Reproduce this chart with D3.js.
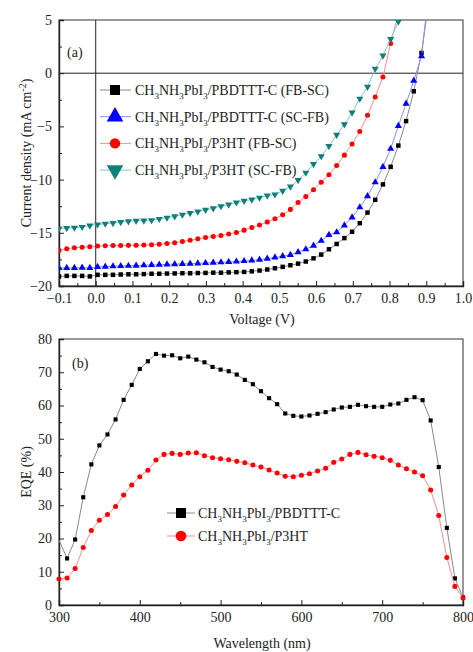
<!DOCTYPE html>
<html>
<head>
<meta charset="utf-8">
<script src="https://cdn.jsdelivr.net/npm/d3@7"></script>
</head>
<body style="margin:0">
<svg id="chart" width="473" height="652"></svg>
<script>
// panel (a) J-V data
var voltage = [-0.100,-0.079,-0.058,-0.037,-0.016,0.005,0.026,0.047,0.068,0.089,0.110,0.131,0.152,0.173,0.194,0.215,0.236,0.257,0.278,0.299,0.320,0.341,0.362,0.383,0.404,0.425,0.446,0.467,0.488,0.509,0.530,0.551,0.572,0.593,0.614,0.635,0.656,0.677,0.698,0.719,0.740,0.761,0.782,0.803,0.824,0.845,0.866,0.887,0.908];
var jPbdtttFbSc = [-19.1,-19.05,-19.05,-19.05,-19.1,-18.95,-18.95,-18.95,-18.92,-18.9,-18.9,-18.88,-18.85,-18.85,-18.83,-18.82,-18.8,-18.8,-18.78,-18.77,-18.75,-18.75,-18.72,-18.7,-18.68,-18.62,-18.55,-18.45,-18.33,-18.2,-18.05,-17.9,-17.7,-17.4,-17.05,-16.55,-16.05,-15.5,-14.9,-14.1,-13.1,-11.9,-10.45,-8.8,-6.8,-4.5,-1.7,1.9,7.0];
var jPbdtttScFb = [-18.3,-18.3,-18.3,-18.28,-18.3,-18.2,-18.18,-18.15,-18.12,-18.1,-18.08,-18.05,-18.02,-18.0,-17.97,-17.95,-17.92,-17.9,-17.87,-17.84,-17.8,-17.77,-17.74,-17.7,-17.65,-17.6,-17.52,-17.43,-17.32,-17.2,-17.07,-16.82,-16.55,-16.2,-15.75,-15.2,-14.95,-14.3,-13.55,-12.6,-11.55,-10.25,-8.8,-7.1,-4.95,-2.86,-0.7,1.6,8.0];
var jP3htFbSc = [-16.65,-16.5,-16.4,-16.35,-16.32,-16.25,-16.22,-16.2,-16.2,-16.18,-16.17,-16.15,-16.12,-16.08,-16.0,-15.93,-15.82,-15.7,-15.57,-15.45,-15.35,-15.25,-15.12,-14.97,-14.75,-14.5,-14.27,-13.98,-13.67,-13.3,-12.8,-12.15,-11.6,-10.95,-10.25,-9.55,-8.68,-7.7,-6.65,-5.47,-3.96,-2.24,-0.35,2.8,5.6];
var jP3htScFb = [-14.6,-14.55,-14.52,-14.45,-14.32,-14.22,-14.15,-14.08,-14.0,-13.92,-13.87,-13.85,-13.82,-13.7,-13.58,-13.45,-13.3,-13.15,-13.0,-12.85,-12.7,-12.5,-12.35,-12.15,-12.0,-11.88,-11.7,-11.5,-11.4,-11.05,-10.65,-10.05,-9.35,-8.55,-7.8,-6.85,-5.8,-4.8,-3.71,-2.4,-1.29,0.42,1.65,3.2,4.85,6.5];

// panel (b) EQE data
var wavelength = [300,310,320,330,340,350,360,370,380,390,400,410,420,430,440,450,460,470,480,490,500,510,520,530,540,550,560,570,580,590,600,610,620,630,640,650,660,670,680,690,700,710,720,730,740,750,760,770,780,790,800];
var eqePbdttt = [19.5,14.0,19.7,32.4,42.3,48.0,51.3,55.8,61.7,66.2,71.0,73.3,75.5,75.0,75.1,74.2,74.7,73.8,73.0,71.6,70.8,70.3,69.3,67.7,66.4,64.3,62.2,60.4,57.6,56.9,56.7,57.0,57.5,58.0,58.8,59.4,59.6,60.2,59.8,59.6,59.6,60.3,60.6,61.7,62.5,61.6,55.5,41.5,23.2,8.0,2.3];
var eqeP3ht = [7.8,8.1,11.0,17.3,22.4,25.5,27.2,29.6,33.1,36.1,38.6,40.5,43.6,45.3,45.6,45.3,45.7,45.8,44.9,44.3,44.0,43.7,43.2,42.8,42.1,41.5,40.6,39.7,38.7,38.6,39.0,39.5,40.3,41.1,42.9,43.9,45.3,45.9,45.2,44.7,44.3,43.5,42.1,41.0,40.0,38.9,34.6,26.9,14.3,5.6,2.1];

var svg = d3.select("#chart"),
    left = 59, right = 463,
    ink = "#222";

// every label goes through here so it gets the serif face at once
function label(parent, x, y, str) {
  var t = parent.append("text")
      .style("font-family", "Liberation Serif")
      .style("font-size", "14px")
      .style("fill", ink);
  if (x !== null) t.attr("x", x).attr("y", y);
  if (str) t.text(str);
  return t;
}

// axis groups come with sans-serif attributes, swap them for the serif face
function plainAxis(g, domainWidth) {
  g.attr("font-family", null).attr("font-size", null);
  g.selectAll("text")
      .style("font-family", "Liberation Serif")
      .style("font-size", "14px")
      .style("fill", ink);
  g.selectAll("line").attr("stroke", ink);
  if (domainWidth) g.select(".domain").attr("stroke", ink).attr("stroke-width", domainWidth);
  else g.select(".domain").remove();
}

// nested svg viewport used as a clip box, keeping page coordinates
function viewport(x, y, w, h) {
  return svg.append("svg")
      .attr("x", x).attr("y", y).attr("width", w).attr("height", h)
      .attr("viewBox", x + " " + y + " " + w + " " + h)
      .attr("overflow", "hidden");
}

// legend text with subscripts
function formula(t, tail) {
  var parts = ["CH", "3", "NH", "3", "PbI", "3", tail];
  parts.forEach(function(p, i) {
    var sp = t.append("tspan").text(p);
    if (i % 2 === 1 && i < 6) {
      sp.style("font-size", "9px").attr("dy", "4");
    } else if (i > 0) {
      sp.attr("dy", "-4");
    }
  });
}

// ---------- panel (a) ----------
var topA = 20, bottomA = 286;
var xA = d3.scaleLinear().domain([-0.1, 1.0]).range([left, right]),
    yA = d3.scaleLinear().domain([-20, 5]).range([bottomA, topA]);

svg.append("rect").attr("x", left).attr("y", topA).attr("width", right - left).attr("height", bottomA - topA)
    .attr("fill", "none").attr("stroke", "#333").attr("stroke-width", 1);

svg.append("line").attr("x1", left).attr("x2", right).attr("y1", yA(0)).attr("y2", yA(0))
    .attr("stroke", ink).attr("stroke-width", 1);
svg.append("line").attr("x1", xA(0)).attr("x2", xA(0)).attr("y1", topA).attr("y2", bottomA)
    .attr("stroke", ink).attr("stroke-width", 1);

svg.append("g")
    .attr("transform", "translate(0," + bottomA + ")")
    .call(d3.axisBottom(xA).tickValues(d3.range(-0.1, 1.01, 0.1)).tickFormat(d3.format(".1f")).tickSize(-5).tickPadding(7))
    .call(plainAxis, 1.4);
svg.append("g")
    .attr("transform", "translate(0," + bottomA + ")")
    .call(d3.axisBottom(xA).tickValues(d3.range(-0.05, 1.0, 0.1)).tickFormat("").tickSize(-3))
    .call(plainAxis, 0);

svg.append("g")
    .attr("transform", "translate(" + left + ",0)")
    .call(d3.axisLeft(yA).tickValues([-20, -15, -10, -5, 0, 5]).tickSize(-5).tickPadding(7))
    .call(plainAxis, 1.4);
svg.append("g")
    .attr("transform", "translate(" + left + ",0)")
    .call(d3.axisLeft(yA).tickValues([-17.5, -12.5, -7.5, -2.5, 2.5]).tickFormat("").tickSize(-3))
    .call(plainAxis, 0);

var seriesA = [
  {name: "PBDTTT-C (FB-SC)", values: jPbdtttFbSc, line: "#8a8a8a", color: "#000", symbol: d3.symbolSquare, size: 20, rot: 0, big: 100},
  {name: "PBDTTT-C (SC-FB)", values: jPbdtttScFb, line: "#8c8cff", color: "#0000ff", symbol: d3.symbolTriangle, size: 22, rot: 0, big: 120},
  {name: "P3HT (FB-SC)", values: jP3htFbSc, line: "#ff8c8c", color: "#ff0000", symbol: d3.symbolCircle, size: 20, rot: 0, big: 85},
  {name: "P3HT (SC-FB)", values: jP3htScFb, line: "#86c8c2", color: "#0e8078", symbol: d3.symbolTriangle, size: 22, rot: 180, big: 120}
];

var lineA = d3.line()
    .x(function(d) { return xA(d.v); })
    .y(function(d) { return yA(d.j); });

var plotA = viewport(left, topA, right - left, bottomA - topA);

seriesA.forEach(function(s) {
  var pts = s.values.map(function(j, i) { return {v: voltage[i], j: j}; });
  plotA.append("path").datum(pts)
      .attr("fill", "none").attr("stroke", s.line).attr("stroke-width", 1)
      .attr("d", lineA);
  plotA.selectAll(null).data(pts).enter().append("path")
      .attr("transform", function(d) { return "translate(" + xA(d.v) + "," + yA(d.j) + ") rotate(" + s.rot + ")"; })
      .attr("d", d3.symbol().type(s.symbol).size(s.size))
      .attr("fill", s.color);
});

seriesA.forEach(function(s, i) {
  var ly = 90 + i * 26.7;
  svg.append("line").attr("x1", 100).attr("x2", 131).attr("y1", ly).attr("y2", ly)
      .attr("stroke", s.line).attr("stroke-width", 1);
  svg.append("path")
      .attr("transform", "translate(115," + ly + ") rotate(" + s.rot + ")")
      .attr("d", d3.symbol().type(s.symbol).size(s.big))
      .attr("fill", s.color);
  formula(label(svg, 135, ly + 5), "/" + s.name);
});

label(svg, 67, 57, "(a)");
label(svg, 262, 324, "Voltage (V)").attr("text-anchor", "middle");

var yt = label(svg, null, null)
    .attr("transform", "translate(31," + ((topA + bottomA) / 2) + ") rotate(-90)")
    .attr("text-anchor", "middle");
yt.append("tspan").text("Current density  (mA cm");
yt.append("tspan").text("-2").style("font-size", "10px").attr("dy", "-5");
yt.append("tspan").text(")").attr("dy", "5");

// ---------- panel (b) ----------
var topB = 339, bottomB = 605;
var xB = d3.scaleLinear().domain([300, 800]).range([left, right]),
    yB = d3.scaleLinear().domain([0, 80]).range([bottomB, topB]);

svg.append("rect").attr("x", left).attr("y", topB).attr("width", right - left).attr("height", bottomB - topB)
    .attr("fill", "none").attr("stroke", "#333").attr("stroke-width", 1);

svg.append("g")
    .attr("transform", "translate(0," + bottomB + ")")
    .call(d3.axisBottom(xB).tickValues([300, 400, 500, 600, 700, 800]).tickSize(-5).tickPadding(7))
    .call(plainAxis, 1.4);
svg.append("g")
    .attr("transform", "translate(0," + bottomB + ")")
    .call(d3.axisBottom(xB).tickValues([350, 450, 550, 650, 750]).tickFormat("").tickSize(-3))
    .call(plainAxis, 0);

svg.append("g")
    .attr("transform", "translate(" + left + ",0)")
    .call(d3.axisLeft(yB).tickValues(d3.range(0, 81, 10)).tickSize(-5).tickPadding(7))
    .call(plainAxis, 1.4);
svg.append("g")
    .attr("transform", "translate(" + left + ",0)")
    .call(d3.axisLeft(yB).tickValues(d3.range(5, 80, 10)).tickFormat("").tickSize(-3))
    .call(plainAxis, 0);

var seriesB = [
  {name: "PBDTTT-C", values: eqePbdttt, line: "#8a8a8a", color: "#000", symbol: d3.symbolSquare, size: 17, big: 100, first: 1},
  {name: "P3HT", values: eqeP3ht, line: "#ff8c8c", color: "#ff0000", symbol: d3.symbolCircle, size: 20, big: 90, first: 0}
];

var lineB = d3.line()
    .x(function(d) { return xB(d.w); })
    .y(function(d) { return yB(d.e); });

var plotB = viewport(left - 4, topB, right - left + 8, bottomB - topB + 4);

seriesB.forEach(function(s) {
  var pts = s.values.map(function(e, i) { return {w: wavelength[i], e: e}; });
  plotB.append("path").datum(pts)
      .attr("fill", "none").attr("stroke", s.line).attr("stroke-width", 1)
      .attr("d", lineB);
  plotB.selectAll(null).data(pts.slice(s.first)).enter().append("path")
      .attr("transform", function(d) { return "translate(" + xB(d.w) + "," + yB(d.e) + ")"; })
      .attr("d", d3.symbol().type(s.symbol).size(s.size))
      .attr("fill", s.color);
});

seriesB.forEach(function(s, i) {
  var ly = 513 + i * 23;
  svg.append("line").attr("x1", 167).attr("x2", 195).attr("y1", ly).attr("y2", ly)
      .attr("stroke", s.line).attr("stroke-width", 1);
  svg.append("path")
      .attr("transform", "translate(181," + ly + ")")
      .attr("d", d3.symbol().type(s.symbol).size(s.big))
      .attr("fill", s.color);
  formula(label(svg, 198, ly + 5), "/" + s.name);
});

label(svg, 72, 368, "(b)");
label(svg, 262, 648, "Wavelength (nm)").attr("text-anchor", "middle");
label(svg, null, null, "EQE (%)")
    .attr("transform", "translate(31," + ((topB + bottomB) / 2) + ") rotate(-90)")
    .attr("text-anchor", "middle");
</script>
</body>
</html>
